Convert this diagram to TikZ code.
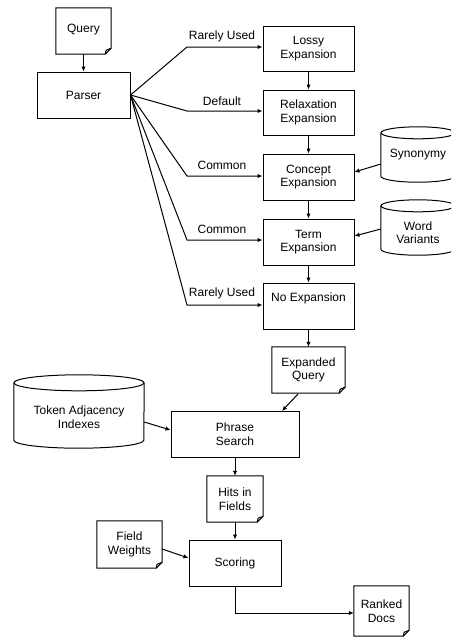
\documentclass[tikz,border=0pt]{standalone}
\usepackage{fontspec}
\setmainfont{Liberation Sans}
\usetikzlibrary{arrows.meta}
\newcommand\docframe[1]{%
  \draw[line] (#1.north west) -- (#1.north east) -- ([yshift=6pt]#1.south east)
    -- ([xshift=-6pt]#1.south east) -- (#1.south west) -- cycle;
  \draw[line] ([yshift=6pt]#1.south east) -- ([xshift=-5pt,yshift=4pt]#1.south east)
    -- ([xshift=-6pt]#1.south east);}
\newcommand\cylframe[3]{% name, half width, ry
  \draw[line] ([yshift=-#3]#1.north west) -- ([yshift=#3]#1.south west)
    arc[start angle=180,end angle=360,x radius=#2,y radius=#3]
    -- ([yshift=-#3]#1.north east);
  \draw[line] ([yshift=-#3]#1.north) ellipse[x radius=#2,y radius=#3];}
\newcommand\lowered[2]{\raisebox{#1}[0pt][0pt]{\begin{tabular}{@{}c@{}}#2\end{tabular}}}
\begin{document}
\begin{tikzpicture}[x=1pt,y=-1pt,
  font=\fontsize{12}{13.5}\selectfont,
  line/.style={draw=black,line width=1pt},
  box/.style={line,rectangle,align=center,inner sep=0pt},
  plain/.style={rectangle,align=center,inner sep=0pt},
  arr/.style={line,-{Latex[length=5pt,width=4.5pt]}},
  lbl/.style={inner sep=0pt}]
\clip (0,0) rectangle (451,638);
\fill[white] (0,0) rectangle (451,638);
% documents
\node[plain,minimum width=55pt,minimum height=46pt] (query) at (83.5,31) {\raisebox{-1.5pt}[0pt][0pt]{Query}};
\docframe{query}
\node[plain,minimum width=73pt,minimum height=46pt] (expq) at (308.5,370) {Expanded\\Query};
\docframe{expq}
\node[plain,minimum width=56pt,minimum height=46pt] (hits) at (235,499) {Hits in\\Fields};
\docframe{hits}
\node[plain,minimum width=65pt,minimum height=47pt] (fw) at (129.5,544.5) {Field\\Weights};
\docframe{fw}
\node[plain,minimum width=55pt,minimum height=50pt] (ranked) at (381.5,611) {Ranked\\Docs};
\docframe{ranked}
% boxes
\node[box,minimum width=93pt,minimum height=46pt] (parser) at (83.5,95) {Parser};
\node[box,minimum width=91pt,minimum height=45pt] (lossy) at (308.5,48.5) {Lossy\\Expansion};
\node[box,minimum width=91pt,minimum height=45pt] (relax) at (308.5,112.5) {Relaxation\\Expansion};
\node[box,minimum width=91pt,minimum height=46pt] (concept) at (308.5,177) {Concept\\Expansion};
\node[box,minimum width=91pt,minimum height=46pt] (term) at (308.5,242) {Term\\Expansion};
\node[box,minimum width=91pt,minimum height=46pt] (noexp) at (308.5,306) {No Expansion\\\strut};
\node[box,minimum width=128pt,minimum height=46pt] (phrase) at (235,434) {Phrase\\Search};
\node[box,minimum width=92pt,minimum height=46pt] (scoring) at (235,563) {Scoring};
% cylinders
\node[plain,minimum width=74pt,minimum height=55pt] (syn) at (418,154.5) {Synonymy};
\cylframe{syn}{37pt}{6pt}
\node[plain,minimum width=74pt,minimum height=55pt] (wv) at (418,227.5) {\lowered{-10pt}{Word\\Variants}};
\cylframe{wv}{37pt}{6pt}
\node[plain,minimum width=130pt,minimum height=73pt] (tok) at (79,411.5) {\lowered{-10.5pt}{Token Adjacency\\Indexes}};
\cylframe{tok}{65pt}{8pt}
% coordinates
\coordinate (b1) at (187,47);
\coordinate (b2) at (187,111);
\coordinate (b3) at (187,176);
\coordinate (b4) at (187,240);
\coordinate (b5) at (187,305);
\coordinate (sc) at (235,613);
% connectors
\draw[arr] (query) -- (parser);
\draw[arr] (parser.east) -- (b1) -- (lossy.west |- b1);
\draw[arr] (parser.east) -- (b2) -- (relax.west |- b2);
\draw[arr] (parser.east) -- (b3) -- (concept.west |- b3);
\draw[arr] (parser.east) -- (b4) -- (term.west |- b4);
\draw[arr] (parser.east) -- (b5) -- (noexp.west |- b5);
\node[lbl] at (222,36) {Rarely Used};
\node[lbl] at (222,101) {Default};
\node[lbl] at (222,165) {Common};
\node[lbl] at (222,229) {Common};
\node[lbl] at (222,293) {Rarely Used};
\draw[arr] (lossy) -- (relax);
\draw[arr] (relax) -- (concept);
\draw[arr] (concept) -- (term);
\draw[arr] (term) -- (noexp);
\draw[arr] (noexp) -- (expq);
\draw[arr] (syn.west |- 0,164) -- (concept.east |- 0,172);
\draw[arr] (wv.west |- 0,229) -- (term.east |- 0,236);
\draw[arr] (298,394) -- (282,411);
\draw[arr] (tok.east |- 0,422) -- (phrase.west |- 0,430);
\draw[arr] (phrase) -- (hits);
\draw[arr] (hits) -- (scoring);
\draw[arr] (fw.east |- 0,549) -- (scoring.west |- 0,558);
\draw[arr] (scoring.south) -- (sc) -- (ranked.west |- sc);
\end{tikzpicture}
\end{document}
